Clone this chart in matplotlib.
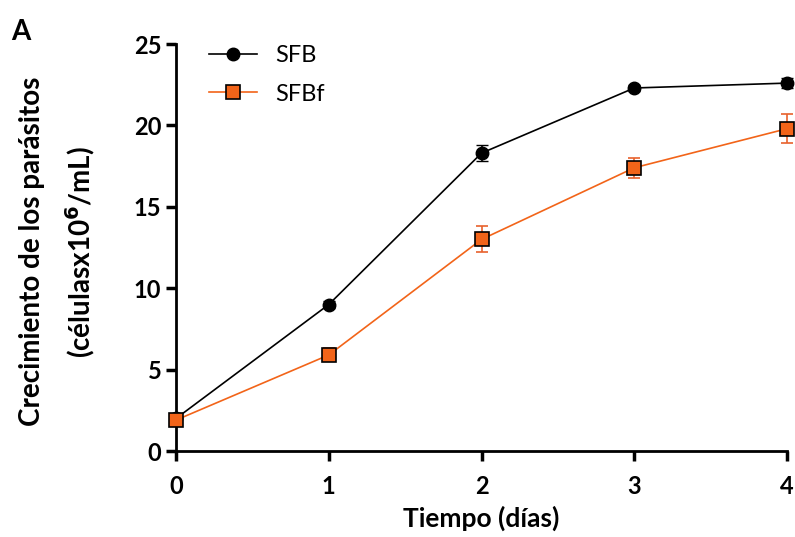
import matplotlib
matplotlib.use('Agg')
import matplotlib.pyplot as plt

plt.rcParams['font.family'] = ['Lato', 'DejaVu Sans']

dias = [0, 1, 2, 3, 4]
sfb = [2.0, 9.0, 18.3, 22.3, 22.6]
sfb_err = [0.1, 0.2, 0.5, 0.2, 0.3]
sfbf = [1.9, 5.9, 13.0, 17.4, 19.8]
sfbf_err = [0.1, 0.4, 0.8, 0.6, 0.9]

fig = plt.figure(figsize=(7.95, 5.37), dpi=100)
ax = fig.add_axes([0.2214, 0.1601, 0.7686, 0.7579])

ax.errorbar(dias, sfb, yerr=sfb_err, color='black', marker='o', markersize=9,
            linewidth=1.2, capsize=4, elinewidth=1.2, label='SFB', clip_on=False, zorder=3)
ax.errorbar(dias, sfbf, yerr=sfbf_err, color='#f26419', ecolor='#e8612c', marker='s',
            markersize=10, markerfacecolor='#f26419', markeredgecolor='black', markeredgewidth=1.2,
            linewidth=1.2, capsize=4, elinewidth=1.2, label='SFBf', clip_on=False, zorder=4)

ax.set_xlim(0, 4)
ax.set_ylim(0, 25)
ax.set_xticks(dias)
ax.set_yticks([0, 5, 10, 15, 20, 25])
for s in ['top', 'right']:
    ax.spines[s].set_visible(False)
for s in ['left', 'bottom']:
    ax.spines[s].set_linewidth(2)
ax.tick_params(width=2.5, length=7, labelsize=17)
ax.tick_params(axis='x', pad=10)
for lbl in ax.get_xticklabels() + ax.get_yticklabels():
    lbl.set_fontweight('bold')

ax.set_xlabel('Tiempo (días)', fontsize=19, fontweight='bold', labelpad=6)
ax.set_ylabel('Crecimiento de los parásitos\n(célulasx10$^{\\mathbf{6}}$/mL)', fontsize=20,
              fontweight='bold', linespacing=1.65)
ax.yaxis.set_label_coords(-0.13, 0.49)

handles, labels = ax.get_legend_handles_labels()
handles = [h[0] for h in handles]
ax.legend(handles, labels, loc='upper left', bbox_to_anchor=(0.02, 1.05), frameon=False,
          fontsize=17, handlelength=2.0, labelspacing=0.75)

fig.text(0.014, 0.925, 'A', fontsize=20, fontweight='bold')

fig.savefig('out.png', dpi=100)
